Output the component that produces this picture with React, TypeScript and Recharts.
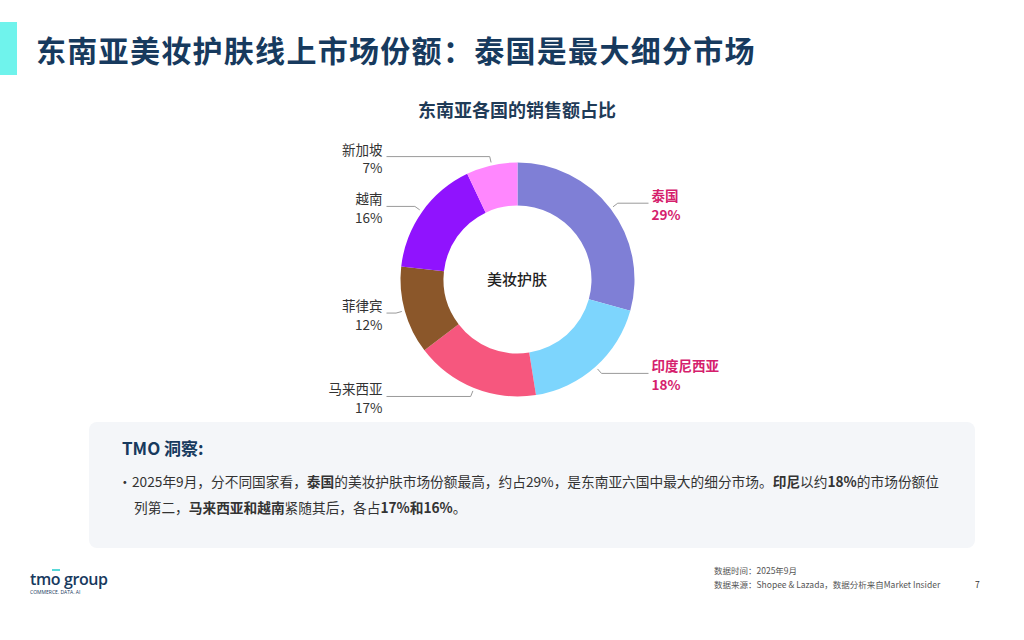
import { PieChart, Pie, Cell } from 'recharts'

const countries = ['泰国', '印度尼西亚', '马来西亚', '菲律宾', '越南', '新加坡']
const shares = [29, 18, 17, 12, 16, 7]
const sliceColors = ['#7f7fd6', '#7dd5fd', '#f6577e', '#8b572a', '#9013fe', '#ff87fe']
const highlighted = ['泰国', '印度尼西亚']

const FONT = "'Noto Sans CJK SC', 'Noto Sans', sans-serif"
const NAVY = '#173a5e'

const chartData = countries.map((name, i) => ({ name, value: shares[i] }))

const renderLabel = (props: any) => {
  const { cx, cy, midAngle, outerRadius, index } = props
  const rad = Math.PI / 180
  const cos = Math.cos(-midAngle * rad)
  const sin = Math.sin(-midAngle * rad)
  const sx = cx + (outerRadius + 3) * cos
  const sy = cy + (outerRadius + 3) * sin
  const mx = cx + (outerRadius + 9) * cos
  const my = cy + (outerRadius + 9) * sin
  const right = cos >= 0
  const ex = cx + (right ? 1 : -1) * (outerRadius + 14)
  const tx = right ? ex + 3 : ex - 4
  const name = countries[index]
  const hot = highlighted.includes(name)
  const color = hot ? '#d5206c' : '#333333'
  return (
    <g>
      <polyline points={`${sx},${sy} ${mx},${my} ${ex},${my}`} fill="none" stroke="#9a9a9a" strokeWidth={1} />
      <text x={tx} y={my - 8} textAnchor={right ? 'start' : 'end'} dominantBaseline="central"
        fontSize={13.5} fontWeight={hot ? 700 : 400} fill={color} fontFamily={FONT}>
        {name}
      </text>
      <text x={tx} y={my + 10.5} textAnchor={right ? 'start' : 'end'} dominantBaseline="central"
        fontSize={13.5} fontWeight={hot ? 700 : 400} fill={color} fontFamily={FONT}>
        {shares[index]}%
      </text>
    </g>
  )
}

export default function App() {
  return (
    <div style={{ position: 'absolute', left: 0, top: 0, width: 1024, height: 640, background: '#fff', fontFamily: FONT, overflow: 'hidden' }}>
      <div style={{ position: 'absolute', left: 0, top: 22, width: 17, height: 53, background: '#6ff3ec' }} />
      <div style={{ position: 'absolute', left: 36, top: 28, fontSize: 30, fontWeight: 700, color: NAVY, lineHeight: '42px', letterSpacing: 1.3, whiteSpace: 'nowrap' }}>
        东南亚美妆护肤线上市场份额：泰国是最大细分市场
      </div>

      <div style={{ position: 'absolute', left: 0, width: 1034, top: 96, textAlign: 'center', fontSize: 18, fontWeight: 700, color: '#1f3b57', lineHeight: '26px' }}>
        东南亚各国的销售额占比
      </div>

      <div style={{ position: 'absolute', left: 262, top: 120 }}>
        <PieChart width={512} height={320} margin={{ top: 0, right: 0, bottom: 0, left: 0 }}>
          <Pie
            data={chartData}
            dataKey="value"
            nameKey="name"
            cx={255.5}
            cy={159.5}
            innerRadius={74}
            outerRadius={117}
            startAngle={90}
            endAngle={-270}
            stroke="none"
            label={renderLabel}
            labelLine={false}
            isAnimationActive={false}
          >
            {chartData.map((d, i) => (
              <Cell key={d.name} fill={sliceColors[i]} />
            ))}
          </Pie>
        </PieChart>
      </div>
      <div style={{ position: 'absolute', left: 467, width: 100, top: 268, textAlign: 'center', fontSize: 15, fontWeight: 500, color: '#222', lineHeight: '22px' }}>
        美妆护肤
      </div>

      <div style={{ position: 'absolute', left: 89, top: 422, width: 886, height: 126, background: '#f4f6f9', borderRadius: 8 }}>
        <div style={{ position: 'absolute', left: 33, top: 14, fontSize: 17, fontWeight: 700, color: NAVY, lineHeight: '24px' }}>
          TMO 洞察:
        </div>
        <div style={{ position: 'absolute', left: 29, top: 46, fontSize: 13.7, color: '#333', lineHeight: '26px', whiteSpace: 'nowrap' }}>
          <span style={{ display: 'inline-block', width: 14 }}>·</span>
          2025年9月，分不同国家看，<b>泰国</b>的美妆护肤市场份额最高，约占29%，是东南亚六国中最大的细分市场。<b>印尼</b>以约<b>18%</b>的市场份额位
          <br />
          <span style={{ display: 'inline-block', width: 16 }} />
          列第二，<b>马来西亚和越南</b>紧随其后，各占<b>17%和16%</b>。
        </div>
      </div>

      <div style={{ position: 'absolute', left: 30, top: 570, color: NAVY, fontFamily: "'Open Sans', sans-serif", fontSize: 16, fontWeight: 600, lineHeight: '18px', letterSpacing: -0.4 }}>
        tm<span style={{ position: 'relative' }}>o<span style={{ position: 'absolute', left: 1, top: 1, width: 8, height: 2, background: '#58d8d8' }} /></span> group
      </div>
      <div style={{ position: 'absolute', left: 30, top: 589, fontSize: 5, color: NAVY, lineHeight: '7px', fontFamily: "'Open Sans', sans-serif" }}>
        COMMERCE. DATA. AI
      </div>

      <div style={{ position: 'absolute', left: 714, top: 564, fontSize: 8.5, color: '#555', lineHeight: '13px' }}>
        数据时间：2025年9月
      </div>
      <div style={{ position: 'absolute', left: 714, top: 578, fontSize: 8.5, color: '#555', lineHeight: '13px', whiteSpace: 'nowrap' }}>
        数据来源：Shopee &amp; Lazada，数据分析来自Market Insider
      </div>
      <div style={{ position: 'absolute', left: 975, top: 578, fontSize: 8.5, color: '#333', lineHeight: '13px' }}>7</div>
    </div>
  )
}
